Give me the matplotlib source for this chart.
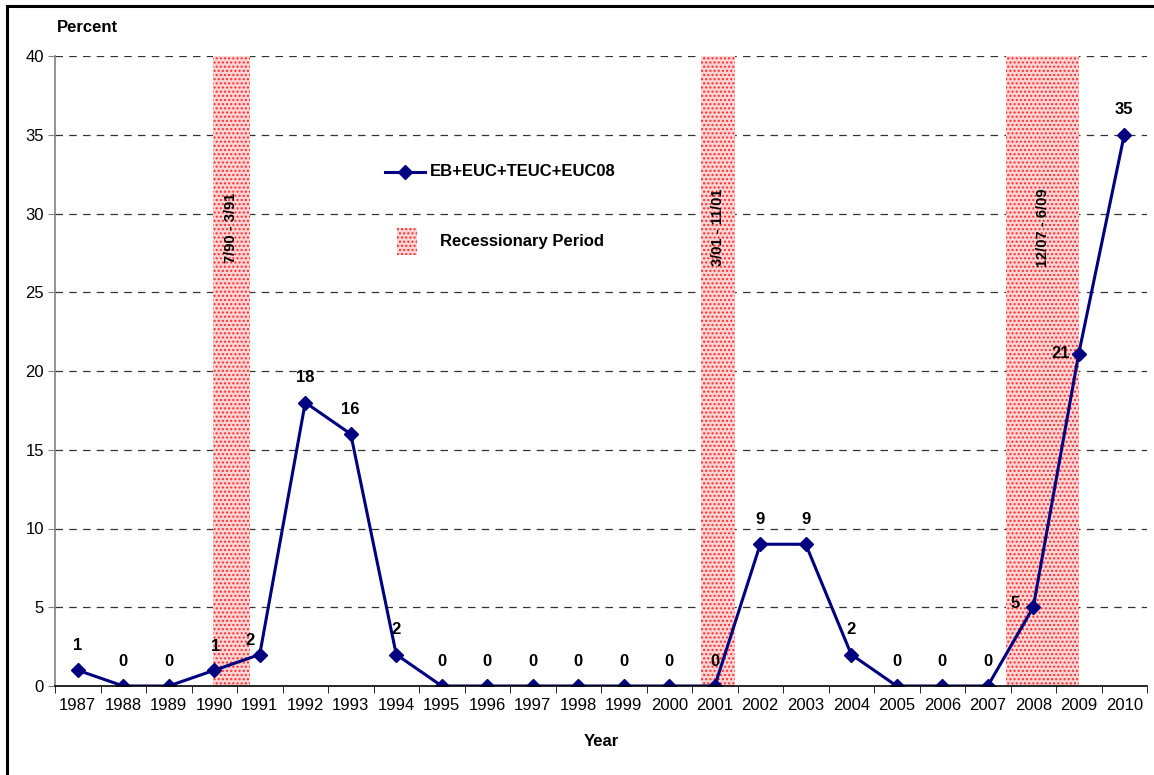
import matplotlib
matplotlib.use("Agg")
import matplotlib.pyplot as plt
from matplotlib.patches import Rectangle
from matplotlib.lines import Line2D

plt.rcParams['font.family'] = ['Liberation Sans', 'DejaVu Sans']
plt.rcParams['hatch.linewidth'] = 1.0

years = [str(y) for y in range(1987, 2011)]
values = [1, 0, 0, 1, 2, 18, 16, 2, 0, 0, 0, 0, 0, 0, 0, 9, 9, 2, 0, 0, 0, 5, 21.1, 35]
value_labels = ['1', '0', '0', '1', '2', '18', '16', '2', '0', '0', '0', '0', '0', '0', '0',
                '9', '9', '2', '0', '0', '0', '5', '21', '35']
rec_start = [2.97, 13.70, 20.40]
rec_end = [3.78, 14.45, 22.01]
rec_labels = ['7/90 - 3/91', '3/01 - 11/01', '12/07 - 6/09']
series_name = 'EB+EUC+TEUC+EUC08'
yticks = [0, 5, 10, 15, 20, 25, 30, 35, 40]

# label offsets in points (style)
label_off = {3: (1, 17), 4: (-7, 10), 21: (-13, 3), 22: (-13, 0)}

W, H = 1154, 775
fig = plt.figure(figsize=(W / 100, H / 100), dpi=100)
ax = fig.add_axes([55 / W, (H - 686) / H, (1147 - 55) / W, (686 - 56) / H])

x = list(range(len(years)))

# grid
for yv in yticks[1:]:
    ax.axhline(yv, color='#333333', linestyle=(0, (6, 5)), linewidth=0.9, zorder=1)

# recession bands
band_face = '#ffd4d4'
band_hatch = '#ff2a2a'
for s, e, lab in zip(rec_start, rec_end, rec_labels):
    ax.axvspan(s, e, facecolor=band_face, edgecolor=band_hatch, hatch='....', linewidth=0, zorder=2)
    ax.text((s + e) / 2, 29.1, lab, rotation=90, ha='center', va='center',
            fontsize=10.5, fontweight='bold', zorder=3)

ax.plot(x, values, color='#000080', linewidth=2.2, marker='D', markersize=7.5, zorder=4)

for i, (v, lab) in enumerate(zip(values, value_labels)):
    dx, dy = label_off.get(i, (0, 18))
    ax.annotate(lab, (i, v), xytext=(dx, dy), textcoords='offset points',
                ha='center', va='center', fontsize=12, fontweight='bold', zorder=5)

ax.set_xlim(-0.5, len(years) - 0.5)
ax.set_ylim(0, 40)
ax.set_yticks(yticks)
ax.set_yticklabels([str(t) for t in yticks], fontsize=12)
ax.set_xticks(x)
ax.set_xticklabels(years, fontsize=12)
ax.set_xticks([i - 0.5 for i in range(len(years) + 1)], minor=True)
ax.tick_params(axis='x', which='major', length=0, pad=9)
ax.tick_params(axis='x', which='minor', length=5, color='black', direction='out')
ax.tick_params(axis='y', length=5, color='#808080', direction='out', pad=3)

for sp in ['top', 'right']:
    ax.spines[sp].set_visible(False)
ax.spines['left'].set_color('#808080')
ax.spines['left'].set_linewidth(1.2)
ax.spines['bottom'].set_color('black')
ax.spines['bottom'].set_linewidth(1.2)
ax.spines['left'].set_zorder(6)
ax.spines['bottom'].set_zorder(6)

ax.set_xlabel('Year', fontsize=12, fontweight='bold', labelpad=15)
fig.text(87 / W, 1 - 27 / H, 'Percent', ha='center', va='center', fontsize=12, fontweight='bold')

# legend (manual)
ax.add_line(Line2D([0.3022, 0.3388], [0.8159, 0.8159], transform=ax.transAxes,
                   color='#000080', linewidth=2.2, zorder=6))
ax.add_line(Line2D([0.3205], [0.8159], transform=ax.transAxes, marker='D',
                   markersize=7, color='#000080', zorder=6))
ax.text(0.3434, 0.8159, series_name, transform=ax.transAxes, ha='left', va='center',
        fontsize=12, fontweight='bold', zorder=6)
ax.add_patch(Rectangle((0.3132, 0.684), 0.0183, 0.043, transform=ax.transAxes,
                       facecolor=band_face, edgecolor=band_hatch, hatch='....', linewidth=0, zorder=6))
ax.text(0.3526, 0.7048, 'Recessionary Period', transform=ax.transAxes, ha='left', va='center',
        fontsize=12, fontweight='bold', zorder=6)

# figure border
fig.add_artist(Rectangle((7 / W, -0.01), 1.0, 1 - 6 / H + 0.01, transform=fig.transFigure,
                         fill=False, edgecolor='black', linewidth=2.2, clip_on=False))

fig.savefig('out.png', dpi=100)
